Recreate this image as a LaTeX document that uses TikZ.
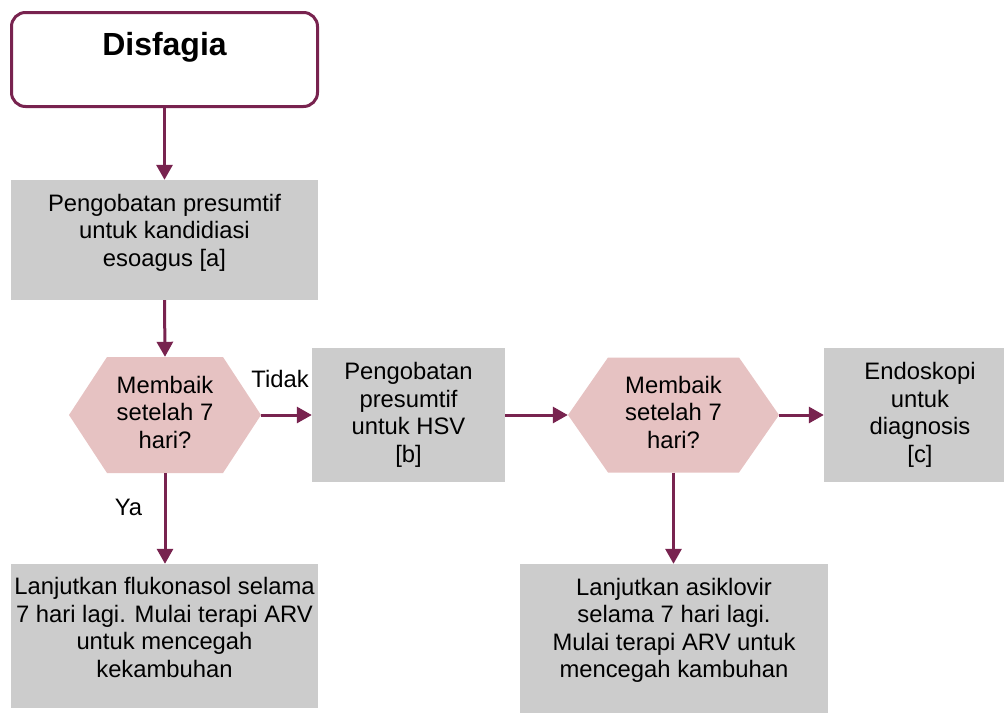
\documentclass[tikz,border=0pt]{standalone}
\usepackage{fontspec}
\setmainfont{Liberation Sans}
\usetikzlibrary{arrows.meta}
\definecolor{maroon}{HTML}{78234F}
\definecolor{hexpink}{HTML}{E6C2C2}
\definecolor{boxgray}{HTML}{CCCCCC}

\begin{document}
\begin{tikzpicture}[x=1pt,y=-1pt,
  txt/.style={font=\fontsize{23.8}{27.5}\selectfont, align=center, inner sep=0pt},
  graybox/.style={fill=boxgray, inner sep=0pt},
  decision/.style={inner sep=0pt,
    path picture={\fill[hexpink] (path picture bounding box.west)
      -- ([xshift=#1]path picture bounding box.north west)
      -- ([xshift=-#1]path picture bounding box.north east)
      -- (path picture bounding box.east)
      -- ([xshift=-#1]path picture bounding box.south east)
      -- ([xshift=#1]path picture bounding box.south west) -- cycle;}},
  flow/.style={draw=maroon, line width=3pt, -{Triangle[length=15pt,width=16pt]}}
]
\useasboundingbox (0,0) rectangle (1004,713);

% start box
\node[draw=maroon, line width=3pt, rounded corners=14pt, fill=white,
      minimum width=306pt, minimum height=94pt, inner sep=0pt,
      font=\bfseries\fontsize{32}{36}\selectfont,
      text height=22pt, text depth=31pt] (start) at (164.5,59.5) {Disfagia};

% treatment and decision steps
\node[graybox, minimum width=307pt, minimum height=120pt,
      label={[txt, name=candtext, yshift=7.6pt]center:{Pengobatan presumtif\\untuk kandidiasi\\esoagus [a]}}]
      (cand) at (164.5,240) {};
\node[decision=38pt, minimum width=192pt, minimum height=116pt,
      label={[txt, name=dec1text, yshift=3pt]center:{Membaik\\setelah 7\\hari?}}]
      (dec1) at (165,415) {};
\node[graybox, minimum width=193pt, minimum height=134pt,
      label={[txt, name=hsvtext]center:{Pengobatan\\presumtif\\untuk HSV\\{[b]}}}]
      (hsv) at (408.5,415) {};
\node[decision=40pt, minimum width=211pt, minimum height=115pt,
      label={[txt, name=dec2text, yshift=3pt]center:{Membaik\\setelah 7\\hari?}}]
      (dec2) at (673.5,415) {};
\node[graybox, minimum width=192pt, minimum height=134pt,
      label={[txt, name=endotext]center:{Endoskopi\\untuk\\diagnosis\\{[c]}}}]
      (endo) at (920,415) {};
\node[graybox, minimum width=307pt, minimum height=144pt,
      label={[txt, name=flukotext, yshift=8.3pt]center:{Lanjutkan flukonasol selama\\7 hari lagi. Mulai terapi ARV\\untuk mencegah\\kekambuhan}}]
      (fluko) at (164.5,636) {};
\node[graybox, minimum width=308pt, minimum height=149pt,
      label={[txt, name=asiktext, yshift=8.3pt]center:{Lanjutkan asiklovir\\selama 7 hari lagi.\\Mulai terapi ARV untuk\\mencegah kambuhan}}]
      (asik) at (674,638.5) {};

% branch labels
\node[txt, anchor=base] (no) at (280,387) {Tidak};
\node[txt, anchor=base] (yes) at (128.5,515) {Ya};

% connectors
\draw[flow] (start.south) -- (cand.north);
\draw[flow] (cand.south) -- (dec1.north);
\draw[flow] (dec1.east) -- (hsv.west);
\draw[flow] (hsv.east) -- (dec2.west);
\draw[flow] (dec2.east) -- (endo.west);
\draw[flow] (dec1.south) -- (dec1.south |- fluko.north);
\draw[flow] (dec2.south) -- (dec2.south |- asik.north);
\end{tikzpicture}
\end{document}
